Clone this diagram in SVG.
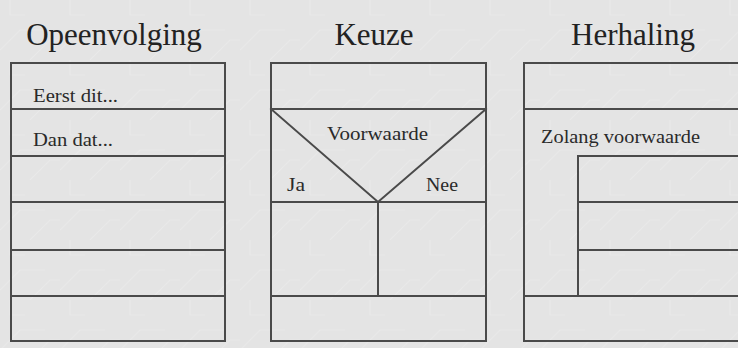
<svg xmlns="http://www.w3.org/2000/svg" width="738" height="348" viewBox="0 0 738 348">
<defs>
<style>
.ln{stroke:#4a4a4a;stroke-width:2;fill:none;stroke-linecap:square}
.tl{font-family:"Liberation Serif",serif;font-size:31px;fill:#222}
.lb{font-family:"Liberation Serif",serif;font-size:18px;fill:#2a2a2a}
</style>
<pattern id="tex" width="60" height="60" patternUnits="userSpaceOnUse">
<rect width="60" height="60" fill="#e4e4e4"/>
<path d="M0 50 L20 30 L45 30 M30 60 L50 40 L60 40 M10 0 L10 15 L25 15" stroke="#e9e9e9" stroke-width="1.2" fill="none"/>
</pattern>
</defs>
<rect width="738" height="348" fill="url(#tex)"/>
<text class="tl" x="114" y="45" text-anchor="middle">Opeenvolging</text>
<text class="tl" x="374" y="45" text-anchor="middle">Keuze</text>
<text class="tl" x="633" y="45" text-anchor="middle">Herhaling</text>
<g id="opeenvolging">
<rect class="ln" x="11" y="63" width="214" height="278"/>
<path class="ln" d="M11 109H225M11 156H225M11 202H225M11 250H225M11 296H225"/>
<text class="lb" x="33" y="102" textLength="85" lengthAdjust="spacingAndGlyphs">Eerst dit...</text>
<text class="lb" x="33" y="146" textLength="80" lengthAdjust="spacingAndGlyphs">Dan dat...</text>
</g>
<g id="keuze">
<rect class="ln" x="271" y="63" width="215" height="278"/>
<path class="ln" d="M271 109H486M271 202H486M271 296H486M271 109L378 202L486 109M378 202V296"/>
<text class="lb" x="327" y="140" textLength="101" lengthAdjust="spacingAndGlyphs">Voorwaarde</text>
<text class="lb" x="287" y="191" textLength="18" lengthAdjust="spacingAndGlyphs">Ja</text>
<text class="lb" x="426" y="191" textLength="32" lengthAdjust="spacingAndGlyphs">Nee</text>
</g>
<g id="herhaling">
<path class="ln" d="M740 63H524V341H740M524 109H740M578 156H740M578 202H740M578 250H740M524 296H740M578 156V296"/>
<text class="lb" x="541" y="143" textLength="159" lengthAdjust="spacingAndGlyphs">Zolang voorwaarde</text>
</g>
<g id="connectors"/>
</svg>
